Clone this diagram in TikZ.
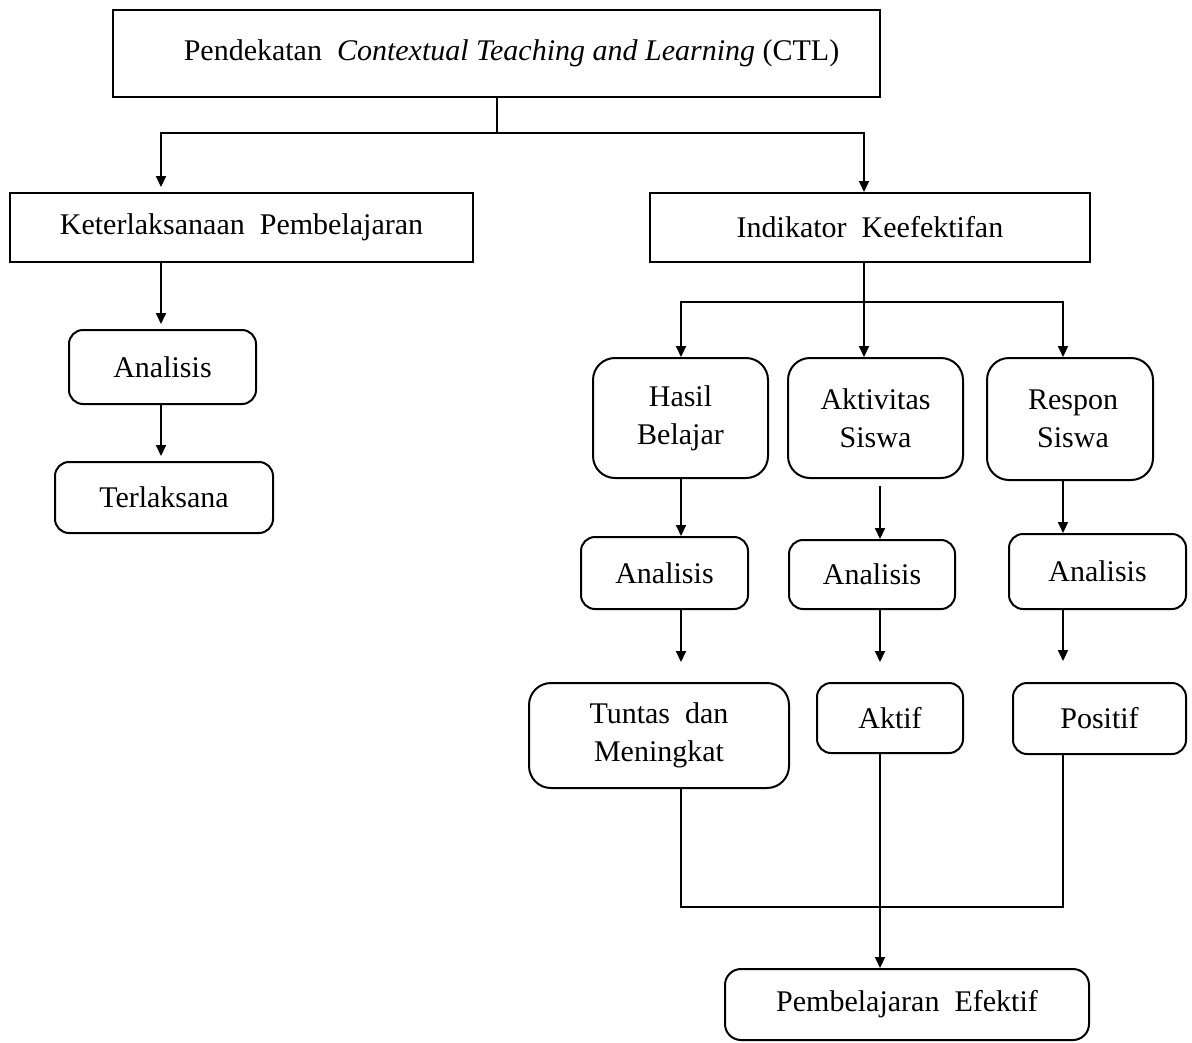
\documentclass[tikz,border=0pt]{standalone}
\usepackage{fontspec}
\setmainfont{Liberation Serif}
\usetikzlibrary{arrows.meta}
\begin{document}
\begin{tikzpicture}[x=1pt,y=-1pt,
  every node/.style={font=\fontsize{30}{38}\selectfont, inner sep=0pt, align=center},
  sq/.style={draw, line width=2pt},
  rd/.style={draw, line width=2pt, rounded corners=14pt},
  rdb/.style={draw, line width=2pt, rounded corners=22pt},
  ln/.style={line width=2pt},
  arr/.style={line width=2pt, -{Triangle[length=11pt,width=10pt]}}]
\useasboundingbox (0,0) rectangle (1192,1042);
% nodes
\node[sq, minimum width=767pt, minimum height=87pt] (top) at (496.5,53.5)
  {\hspace*{30pt}Pendekatan\ \ \textit{Contextual Teaching and Learning} (CTL)};
\node[sq, minimum width=463pt, minimum height=69pt] (ket) at (241.5,227.5) {Keterlaksanaan\ \ Pembelajaran};
\node[sq, minimum width=440pt, minimum height=69pt] (ind) at (870,227.5) {Indikator\ \ Keefektifan};
\node[rd, minimum width=187pt, minimum height=74pt] (anL) at (162.5,367) {Analisis};
\node[rd, minimum width=218pt, minimum height=71pt] (ter) at (164,497.5) {Terlaksana};
\node[rdb, minimum width=175pt, minimum height=120pt] (hasil) at (680.5,418) {Hasil\\Belajar};
\node[rdb, minimum width=175pt, minimum height=120pt] (akt) at (875.5,418) {Aktivitas\\Siswa};
\node[rdb, minimum width=166pt, minimum height=122pt] (resp) at (1070,419) {\hspace*{6pt}Respon\\\hspace*{6pt}Siswa};
\node[rd, minimum width=167pt, minimum height=72pt] (anH) at (664.5,573) {Analisis};
\node[rd, minimum width=166pt, minimum height=69pt] (anA) at (872,574.5) {Analisis};
\node[rd, minimum width=177pt, minimum height=75pt] (anR) at (1097.5,571.5) {Analisis};
\node[rdb, minimum width=260pt, minimum height=105pt] (tun) at (659,735.5) {Tuntas\ \ dan\\Meningkat};
\node[rd, minimum width=146pt, minimum height=70pt] (akf) at (890,718) {Aktif};
\node[rd, minimum width=173pt, minimum height=71pt] (pos) at (1099.5,718.5) {Positif};
\node[rd, rounded corners=16pt, minimum width=364pt, minimum height=71pt] (pe) at (907,1004.5) {Pembelajaran\ \ Efektif};
% helper coordinates
\coordinate (xL) at (161,0);
\coordinate (xR) at (864,0);
\coordinate (xH) at (681,0);
\coordinate (xA) at (880,0);
\coordinate (xS) at (1063,0);
\coordinate (j1) at (496.5,133);
\coordinate (j2) at (864,302);
\coordinate (j3) at (880,907);
% connectors
\draw[ln] (top.south) -- (j1);
\draw[arr, shorten >=5pt] (j1) -| (ket.north -| xL);
\draw[arr] (j1) -| (ind.north -| xR);
\draw[arr, shorten >=5pt] (ket.south -| xL) -- (anL.north -| xL);
\draw[arr, shorten >=5pt] (anL.south -| xL) -- (ter.north -| xL);
\draw[ln] (ind.south -| xR) -- (j2);
\draw[arr] (j2) -| (hasil.north -| xH);
\draw[arr] (j2) -- (akt.north -| xR);
\draw[arr] (j2) -| (resp.north -| xS);
\draw[arr] (hasil.south -| xH) -- (anH.north -| xH);
\draw[arr, shorten <=7pt] (akt.south -| xA) -- (anA.north -| xA);
\draw[arr] (resp.south -| xS) -- (anR.north -| xS);
\draw[arr, shorten >=20pt] (anH.south -| xH) -- (tun.north -| xH);
\draw[arr, shorten >=20pt] (anA.south -| xA) -- (akf.north -| xA);
\draw[arr, shorten >=21pt] (anR.south -| xS) -- (pos.north -| xS);
\draw[ln] (tun.south -| xH) |- (j3) -| (pos.south -| xS);
\draw[arr] (akf.south -| xA) -- (pe.north -| xA);
\end{tikzpicture}
\end{document}
